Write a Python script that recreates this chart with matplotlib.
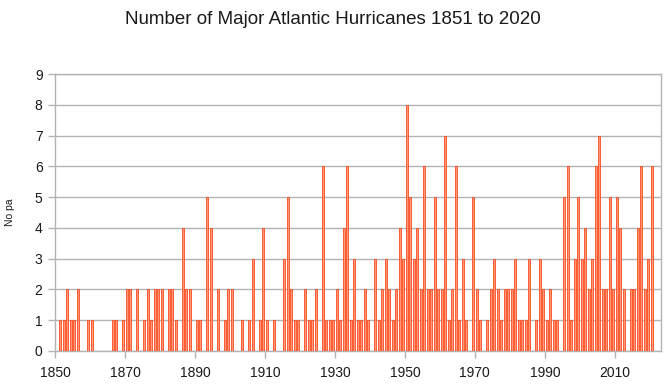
import matplotlib
matplotlib.use("Agg")
import matplotlib.pyplot as plt
import numpy as np

plt.rcParams['font.family'] = ['Liberation Sans', 'DejaVu Sans']

years = list(range(1851, 2021))
counts = [
    # 1851-1860
    1, 1, 2, 1, 1, 2, 0, 0, 1, 1,
    # 1861-1870
    0, 0, 0, 0, 0, 1, 1, 0, 1, 2,
    # 1871-1880
    2, 0, 2, 0, 1, 2, 1, 2, 2, 2,
    # 1881-1890
    0, 2, 2, 1, 0, 4, 2, 2, 0, 1,
    # 1891-1900
    1, 0, 5, 4, 0, 2, 0, 1, 2, 2,
    # 1901-1910
    0, 0, 1, 0, 1, 3, 0, 1, 4, 1,
    # 1911-1920
    0, 1, 0, 0, 3, 5, 2, 1, 1, 0,
    # 1921-1930
    2, 1, 1, 2, 0, 6, 1, 1, 1, 2,
    # 1931-1940
    1, 4, 6, 1, 3, 1, 1, 2, 1, 0,
    # 1941-1950
    3, 1, 2, 3, 2, 1, 2, 4, 3, 8,
    # 1951-1960
    5, 3, 4, 2, 6, 2, 2, 5, 2, 2,
    # 1961-1970
    7, 1, 2, 6, 1, 3, 1, 0, 5, 2,
    # 1971-1980
    1, 0, 1, 2, 3, 2, 1, 2, 2, 2,
    # 1981-1990
    3, 1, 1, 1, 3, 0, 1, 3, 2, 1,
    # 1991-2000
    2, 1, 1, 0, 5, 6, 1, 3, 5, 3,
    # 2001-2010
    4, 2, 3, 6, 7, 2, 2, 5, 2, 5,
    # 2011-2020
    4, 2, 0, 2, 2, 4, 6, 2, 3, 6,
]
x_ticks = [1850, 1870, 1890, 1910, 1930, 1950, 1970, 1990, 2010]
y_ticks = list(range(0, 10))
title = "Number of Major Atlantic Hurricanes 1851 to 2020"
ylabel = "No pa"

fig = plt.figure(figsize=(6.7, 3.89), dpi=100)
ax = fig.add_axes([55/670, 1-351/389, (661-55)/670, (351-74)/389])

xs = np.array(years) + 0.5
ax.bar(xs, counts, width=0.6, color='#ff9878', edgecolor='#ff4a1c',
       linewidth=0.6, zorder=3)

ax.set_xlim(1850, 2023.2)
ax.set_ylim(0, 9)
ax.set_xticks(x_ticks)
ax.set_yticks(y_ticks)
ax.yaxis.grid(True, color='#b3b3b3', linewidth=1.0, zorder=0)
ax.set_axisbelow(True)
for s in ax.spines.values():
    s.set_color('#b3b3b3')
    s.set_linewidth(1.0)
ax.tick_params(axis='both', colors='#b3b3b3', length=5, width=1.0,
               labelcolor='#1a1a1a', labelsize=10)
ax.tick_params(axis='x', pad=6)
ax.tick_params(axis='y', pad=4)

ax.set_ylabel(ylabel, fontsize=7.5, color='#1a1a1a', labelpad=14)
fig.text(0.497, 1-20/389, title, ha='center', va='center', fontsize=13.5,
         color='#1a1a1a')

fig.savefig("out.png", dpi=100, facecolor='white')
